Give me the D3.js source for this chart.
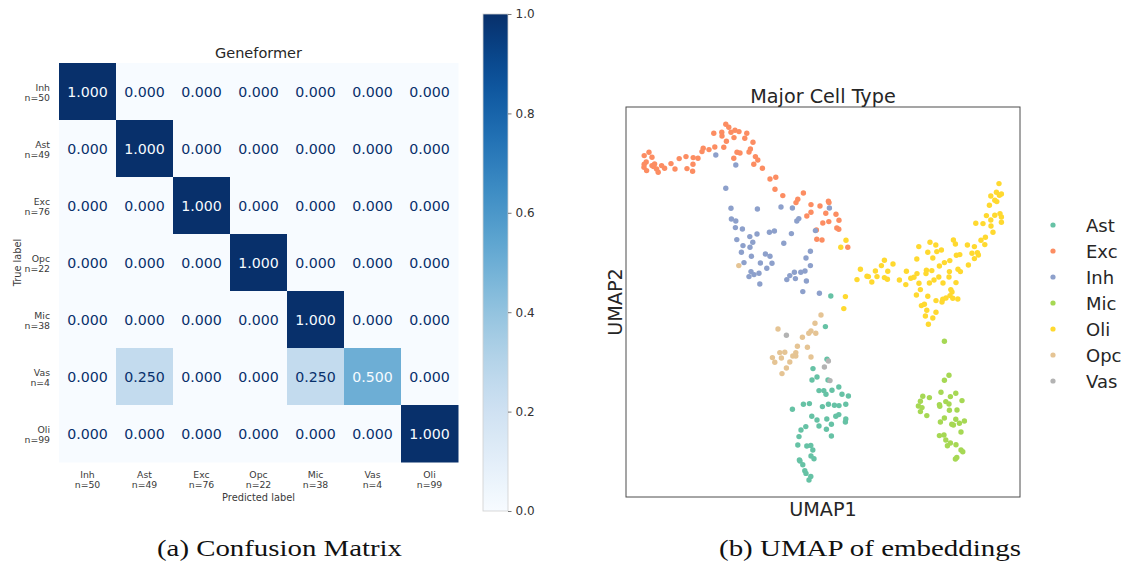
<!DOCTYPE html>
<html>
<head>
<meta charset="utf-8">
<script src="https://cdn.jsdelivr.net/npm/d3@7"></script>
<style>
  body { margin: 0; background: #fff; }
  svg { display: block; font-family: "DejaVu Sans", sans-serif; }
</style>
</head>
<body>
<svg id="fig" width="1126" height="568"></svg>
<script>
// ---------- Confusion matrix data ----------
const cmLabels = ["Inh", "Ast", "Exc", "Opc", "Mic", "Vas", "Oli"];
const cmCounts = [50, 49, 76, 22, 38, 4, 99];
const cmValues = [
  [1.000, 0.000, 0.000, 0.000, 0.000, 0.000, 0.000],
  [0.000, 1.000, 0.000, 0.000, 0.000, 0.000, 0.000],
  [0.000, 0.000, 1.000, 0.000, 0.000, 0.000, 0.000],
  [0.000, 0.000, 0.000, 1.000, 0.000, 0.000, 0.000],
  [0.000, 0.000, 0.000, 0.000, 1.000, 0.000, 0.000],
  [0.000, 0.250, 0.000, 0.000, 0.250, 0.500, 0.000],
  [0.000, 0.000, 0.000, 0.000, 0.000, 0.000, 1.000]
];
const colorbarTicks = [0.0, 0.2, 0.4, 0.6, 0.8, 1.0];

// ---------- UMAP embedding data (UMAP1, UMAP2) ----------
const umapTypes = ["Ast", "Exc", "Inh", "Mic", "Oli", "Opc", "Vas"];
const umapColors = ["#66c2a5", "#fc8d62", "#8da0cb", "#a6d854", "#ffd92f", "#e5c494", "#b3b3b3"];

const excPoints = [
  [0.99,15.64],[1.14,15.49],[0.39,15.19],[0.79,15.24],[0.80,15.05],[1.25,15.24],[1.45,15.34],
  [1.65,15.27],[2.04,15.19],[1.40,14.97],[1.02,14.79],[1.94,14.94],[2.35,14.74],[-0.14,14.44],
  [-0.20,14.27],[0.15,14.37],[0.44,14.50],[0.89,14.49],[1.55,14.24],[1.70,14.20],[1.39,13.94],
  [2.22,14.40],[2.15,14.25],[2.47,14.02],[2.59,13.85],[2.39,13.64],[2.82,13.44],[-3.09,14.07],
  [-2.85,14.24],[-2.70,13.99],[-2.99,13.75],[-3.09,13.64],[-3.10,13.49],[-2.97,13.32],[-2.70,13.57],
  [-2.57,13.65],[-2.62,13.52],[-2.47,13.40],[-2.39,13.24],[-2.22,13.57],[-2.07,13.44],[-1.75,13.67],
  [-1.55,13.40],[-1.34,13.92],[-1.00,14.02],[-0.95,13.42],[-0.65,13.64],[-0.64,13.97],[-0.67,13.29],
  [-0.40,13.94],[3.20,12.90],[3.49,12.99],[3.45,12.39],[3.84,12.07],[4.87,12.20],[4.50,11.72],
  [4.59,11.89],[5.25,11.62],[5.70,11.55],[6.12,11.79],[6.15,11.72],[5.25,11.24],[5.04,11.05],
  [5.99,11.19],[6.50,11.14],[6.65,10.84],[5.84,10.70],[6.14,10.77],[6.54,10.45],[6.64,10.39],
  [5.54,9.89],[5.80,9.85],[7.09,9.49],[5.52,10.35]
];

const inhPoints = [
  [0.49,14.10],[1.49,13.60],[0.99,12.44],[1.25,11.44],[2.57,11.40],[3.75,11.50],[4.32,11.45],
  [6.17,11.45],[1.27,10.90],[1.49,10.80],[1.47,10.47],[1.82,10.40],[4.54,10.80],[4.64,10.92],
  [5.47,10.32],[1.54,9.87],[2.19,10.02],[2.55,10.15],[3.17,10.24],[3.42,10.30],[4.27,10.17],
  [1.85,9.57],[2.20,9.49],[2.34,9.74],[3.89,9.69],[1.77,9.24],[2.27,9.04],[2.97,9.15],
  [3.20,9.04],[1.90,8.72],[2.72,8.70],[3.30,8.69],[3.04,8.44],[2.25,8.27],[2.40,8.12],
  [2.15,8.02],[2.65,8.19],[2.69,7.65],[4.04,7.87],[4.19,8.07],[4.42,8.24],[4.47,7.92],
  [4.74,8.24],[4.95,8.30],[5.02,7.80],[5.00,8.95],[5.22,9.29],[5.22,8.57],[4.84,7.27],
  [5.67,7.19]
];

const oliPoints = [
  [7.00,9.84],[6.74,9.49],[6.97,7.02],[6.89,6.42],[7.72,8.39],[7.55,7.87],[8.05,8.04],
  [8.12,8.02],[8.29,7.75],[8.55,8.02],[8.47,8.30],
  [8.92,8.84],[8.77,8.57],[9.35,8.65],[9.09,8.29],[8.92,7.97],[9.07,7.89],[10.02,8.29],
  [9.67,7.85],[9.99,7.62],[10.24,7.94],[10.40,7.99],[10.55,8.17],[10.54,8.90],[10.64,9.52],
  [11.20,9.74],[11.49,9.60],[11.77,9.35],[11.54,9.27],[11.09,9.24],[11.34,8.95],[11.67,8.55],
  [11.92,8.72],[12.19,8.82],[11.02,8.34],[11.29,8.32],[11.00,8.17],[11.64,8.00],[12.17,8.27],
  [12.15,8.00],[10.65,7.69],[11.17,7.70],[11.40,7.85],[11.85,7.70],[12.50,7.72],[12.60,8.39],
  [12.72,8.27],[10.72,7.37],[10.52,7.10],[11.09,7.04],[11.50,6.82],[11.80,6.75],[11.84,6.89],
  [12.00,6.95],[12.24,7.37],[12.30,7.25],[12.20,7.07],[12.34,6.94],[12.59,6.90],[10.77,6.57],
  [10.92,6.64],[11.04,6.34],[11.50,6.24],[11.34,5.95],[10.97,6.05],[11.12,5.64],[12.37,9.85],
  [12.47,9.65],[12.52,9.09],[12.69,9.12],[13.07,9.60],[13.42,9.52],[13.75,9.84],[13.97,9.99],
  [13.94,9.62],[13.30,9.19],[13.57,9.22],[13.62,9.10],[13.42,8.92],[13.12,8.60],[14.35,10.24],
  [13.49,10.69],[13.85,10.67],[14.24,10.85],[14.25,10.55],[14.02,11.07],[14.44,11.09],[14.17,11.59],
  [14.24,12.05],[14.44,11.84],[14.54,11.77],[14.52,12.24],[14.67,12.09],[14.77,12.15],[14.65,12.67],
  [14.70,11.17],[14.77,11.00],[14.77,10.74]
];

const opcPoints = [
  [5.75,6.10],[5.45,5.69],[3.60,5.40],[5.25,5.30],[5.14,5.19],[5.49,5.19],[4.82,4.99],
  [4.57,4.54],[5.07,4.49],[3.69,4.22],[3.94,4.24],[4.49,4.22],[4.34,4.05],[4.49,4.05],
  [3.32,3.97],[3.77,3.95],[5.25,4.00],[3.44,3.74],[4.19,3.75],[4.02,3.45],[3.80,3.17],
  [1.64,8.57]
];

const vasPoints = [[4.02,5.09],[6.12,3.80],[5.92,3.50],[6.20,2.82]];

const astPoints = [
  [6.24,7.05],[5.97,5.52],[6.05,3.89],[5.35,3.42],[5.55,3.00],[5.30,2.85],[6.10,2.85],
  [5.65,2.32],[5.89,2.32],[6.00,2.14],[6.30,2.34],[6.64,2.50],[6.80,2.14],[7.12,2.05],
  [4.32,1.39],[4.87,1.64],[5.17,1.67],[5.82,1.52],[6.12,1.64],[6.42,1.59],[6.65,1.57],
  [6.99,1.64],[5.29,1.04],[5.55,0.85],[6.04,0.90],[6.49,1.04],[6.64,1.12],[6.99,0.90],
  [6.97,0.75],[5.65,0.55],[6.27,0.64],[6.02,0.39],[4.75,0.35],[4.99,0.52],[4.65,0.02],
  [6.27,0.05],[4.59,-0.40],[5.04,-0.45],[5.24,-0.42],[5.34,-0.65],[5.25,-0.95],[5.40,-1.09],
  [4.67,-1.15],[4.70,-1.20],[4.84,-1.39],[4.94,-1.69],[5.00,-1.82],[5.24,-1.97],[5.15,-2.15]
];

const micPoints = [
  [11.92,4.79],[12.15,3.09],[11.92,2.84],[10.84,2.04],[11.17,1.97],[11.75,2.24],[12.22,2.02],
  [12.49,2.19],[12.80,1.82],[10.72,1.79],[10.62,1.55],[10.80,1.47],[10.72,1.27],[11.67,1.62],
  [11.69,1.54],[11.99,1.77],[12.15,1.65],[12.17,1.34],[12.55,1.35],[11.04,1.07],[11.92,0.95],
  [11.72,0.75],[12.49,0.89],[12.29,0.64],[12.37,0.60],[12.67,0.69],[12.92,0.80],[12.75,0.25],
  [11.67,0.07],[11.90,0.10],[11.99,-0.15],[12.22,-0.30],[12.07,-0.44],[12.50,-0.39],[12.75,-0.65],
  [12.84,-0.74],[12.54,-1.02],[12.47,-1.10]
];

const svg = d3.select("#fig");
const ink = "#262626";

// =====================================================================
// Panel (a): confusion matrix heatmap
// =====================================================================
const cmX = d3.scaleBand().domain(d3.range(cmLabels.length)).range([59, 458]);
const cmY = d3.scaleBand().domain(d3.range(cmLabels.length)).range([63, 462]);
const blues = d3.scaleSequential(d3.interpolateBlues).domain([0, 1]);
const vMin = d3.min(cmValues.flat()), vMax = d3.max(cmValues.flat());
const thresh = (vMin + vMax) / 2;

const cells = [];
cmValues.forEach((row, i) => row.forEach((v, j) => cells.push({ i, j, v })));

const cm = svg.append("g");
cm.selectAll("rect.cell").data(cells).join("rect")
  .attr("class", "cell")
  .attr("x", d => cmX(d.j))
  .attr("y", d => cmY(d.i))
  .attr("width", cmX.bandwidth() + 0.5)
  .attr("height", cmY.bandwidth() + 0.5)
  .attr("fill", d => blues(d.v));

cm.selectAll("text.val").data(cells).join("text")
  .attr("class", "val")
  .attr("x", d => cmX(d.j) + cmX.bandwidth() / 2)
  .attr("y", d => cmY(d.i) + cmY.bandwidth() / 2)
  .attr("dy", "0.36em")
  .attr("text-anchor", "middle")
  .attr("font-size", 14.2)
  .attr("fill", d => d.v < thresh ? blues(1) : blues(0))
  .text(d => d.v.toFixed(3));

// y tick labels (true label)
cmLabels.forEach((lab, i) => {
  const t = cm.append("text")
    .attr("text-anchor", "end")
    .attr("font-size", 9.3)
    .attr("fill", "#3a3a3a");
  const cy = cmY(i) + cmY.bandwidth() / 2;
  t.append("tspan").attr("x", 50).attr("y", cy - 0.5).text(lab);
  t.append("tspan").attr("x", 50).attr("y", cy + 9.3).text("n=" + cmCounts[i]);
});

// x tick labels (predicted label)
cmLabels.forEach((lab, j) => {
  const cx = cmX(j) + cmX.bandwidth() / 2;
  const t = cm.append("text")
    .attr("text-anchor", "middle")
    .attr("font-size", 9.3)
    .attr("fill", "#3a3a3a");
  t.append("tspan").attr("x", cx).attr("y", 478).text(lab);
  t.append("tspan").attr("x", cx).attr("y", 487.5).text("n=" + cmCounts[j]);
});

cm.append("text")
  .attr("x", (59 + 458) / 2).attr("y", 500.5)
  .attr("text-anchor", "middle").attr("font-size", 9.8).attr("fill", "#3a3a3a")
  .text("Predicted label");

cm.append("text")
  .attr("transform", `translate(20.5,${(63 + 462) / 2}) rotate(-90)`)
  .attr("text-anchor", "middle").attr("font-size", 9.8).attr("fill", "#3a3a3a")
  .text("True label");

cm.append("text")
  .attr("x", (59 + 458) / 2).attr("y", 58)
  .attr("text-anchor", "middle").attr("font-size", 14.5).attr("fill", ink)
  .text("Geneformer");

// colorbar
const cbX = 483, cbW = 25;
const cbScale = d3.scaleLinear().domain([0, 1]).range([511, 14]);
const defs = svg.append("defs");
const grad = defs.append("linearGradient").attr("id", "bluesGrad")
  .attr("x1", 0).attr("y1", 1).attr("x2", 0).attr("y2", 0);
d3.range(0, 1.0001, 0.05).forEach(t => {
  grad.append("stop").attr("offset", t).attr("stop-color", blues(t));
});
svg.append("rect")
  .attr("x", cbX).attr("y", cbScale(1))
  .attr("width", cbW).attr("height", cbScale(0) - cbScale(1))
  .attr("fill", "url(#bluesGrad)")
  .attr("stroke", "#cfcfcf").attr("stroke-width", 0.8);

const cbAxis = d3.axisRight(cbScale).tickValues(colorbarTicks)
  .tickFormat(d3.format(".1f")).tickSize(3.5).tickPadding(4);
const cbG = svg.append("g").attr("transform", `translate(${cbX + cbW},0)`).call(cbAxis);
cbG.select(".domain").remove();
cbG.selectAll("line").attr("stroke", "#555").attr("stroke-width", 0.8);
cbG.selectAll("text").attr("font-size", 12).attr("fill", "#333")
  .attr("font-family", "DejaVu Sans, sans-serif");

// =====================================================================
// Panel (b): UMAP scatter
// =====================================================================
const fx0 = 626, fx1 = 1020, fy0 = 107, fy1 = 497;
const ux = d3.scaleLinear().domain([-4, 15.7]).range([fx0, fx1]);
const uy = d3.scaleLinear().domain([-3, 16.5]).range([fy1, fy0]);
const color = d3.scaleOrdinal().domain(umapTypes).range(umapColors);

const groups = [
  ["Exc", excPoints], ["Inh", inhPoints], ["Oli", oliPoints], ["Opc", opcPoints],
  ["Ast", astPoints], ["Mic", micPoints], ["Vas", vasPoints]
];

const um = svg.append("g");
um.append("rect")
  .attr("x", fx0).attr("y", fy0).attr("width", fx1 - fx0).attr("height", fy1 - fy0)
  .attr("fill", "none").attr("stroke", "#4d4d4d").attr("stroke-width", 1);

groups.forEach(([type, pts]) => {
  um.append("g").selectAll("circle").data(pts).join("circle")
    .attr("cx", d => ux(d[0]))
    .attr("cy", d => uy(d[1]))
    .attr("r", 2.7)
    .attr("fill", color(type));
});

um.append("text")
  .attr("x", (fx0 + fx1) / 2).attr("y", 103)
  .attr("text-anchor", "middle").attr("font-size", 19.2).attr("fill", ink)
  .text("Major Cell Type");

um.append("text")
  .attr("x", (fx0 + fx1) / 2).attr("y", 516)
  .attr("text-anchor", "middle").attr("font-size", 19.2).attr("fill", ink)
  .text("UMAP1");

um.append("text")
  .attr("transform", `translate(621.5,${(fy0 + fy1) / 2}) rotate(-90)`)
  .attr("text-anchor", "middle").attr("font-size", 19.2).attr("fill", ink)
  .text("UMAP2");

// legend
const leg = um.append("g");
umapTypes.forEach((type, i) => {
  const cy = 225 + i * 26;
  leg.append("circle").attr("cx", 1053).attr("cy", cy).attr("r", 2.6).attr("fill", color(type));
  leg.append("text").attr("x", 1086).attr("y", cy + 6.5)
    .attr("font-size", 18).attr("fill", ink).text(type);
});

// =====================================================================
// Sub-figure captions
// =====================================================================
const captions = [
  { text: "(a) Confusion Matrix", x: 157, w: 245 },
  { text: "(b) UMAP of embeddings", x: 719, w: 302 }
];
svg.selectAll("text.caption").data(captions).join("text")
  .attr("class", "caption")
  .attr("x", d => d.x).attr("y", 556)
  .attr("font-family", "Liberation Serif, serif")
  .attr("font-size", 24)
  .attr("fill", "#111")
  .attr("textLength", d => d.w)
  .attr("lengthAdjust", "spacingAndGlyphs")
  .text(d => d.text);
</script>
</body>
</html>
